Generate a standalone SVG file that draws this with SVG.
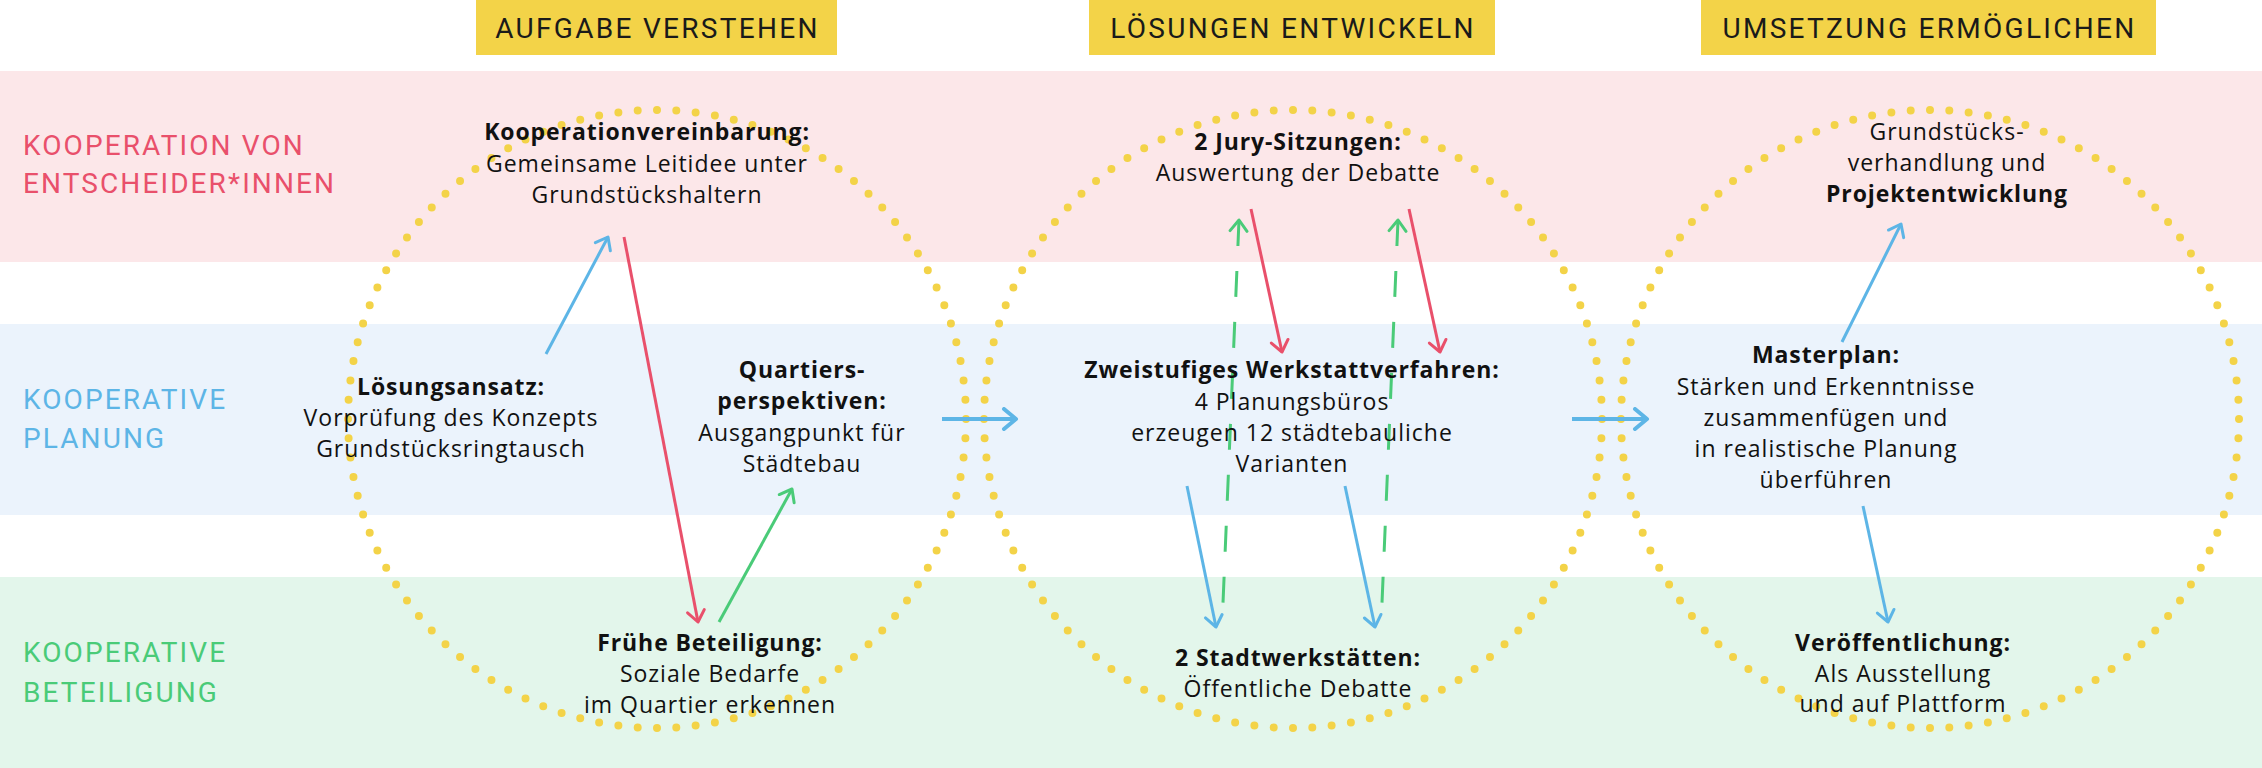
<svg xmlns="http://www.w3.org/2000/svg" width="2262" height="768" viewBox="0 0 2262 768">
<defs>
<style>
.band{stroke:none}
.hdr{fill:#F3D348}
.htxt{font-family:Roboto,"Liberation Sans",sans-serif;font-size:28px;letter-spacing:2.3px;fill:#1a1a1a;text-anchor:middle}
.row{font-family:Roboto,"Liberation Sans",sans-serif;font-size:28px;letter-spacing:2.1px}
.dots{fill:none;stroke:#F3D348;stroke-width:8;stroke-linecap:round;stroke-dasharray:0 1}
.t{font-family:"Open Sans","Noto Sans",sans-serif;font-size:23px;letter-spacing:1px;fill:#111;text-anchor:middle}
.b{font-weight:700;letter-spacing:0.9px}
.c{fill:none;stroke-width:3}
.red{stroke:#E9506B}
.blue{stroke:#5DB5E6}
.green{stroke:#4ACB78}
.thick{stroke-width:4}
.dash{stroke-dasharray:26 25}
</style>
<marker id="ar" viewBox="-16 -12 20 24" refX="0" refY="0" markerWidth="20" markerHeight="24" markerUnits="userSpaceOnUse" orient="auto-start-reverse"><path d="M-11,-8.5 L0,0 L-11,8.5" fill="none" stroke="#E9506B" stroke-width="3" stroke-linecap="round" stroke-linejoin="round"/></marker>
<marker id="ab" viewBox="-16 -12 20 24" refX="0" refY="0" markerWidth="20" markerHeight="24" markerUnits="userSpaceOnUse" orient="auto-start-reverse"><path d="M-11,-8.5 L0,0 L-11,8.5" fill="none" stroke="#5DB5E6" stroke-width="3" stroke-linecap="round" stroke-linejoin="round"/></marker>
<marker id="abt" viewBox="-16 -12 20 24" refX="0" refY="0" markerWidth="20" markerHeight="24" markerUnits="userSpaceOnUse" orient="auto-start-reverse"><path d="M-12,-10 L0,0 L-12,10" fill="none" stroke="#5DB5E6" stroke-width="4" stroke-linecap="round" stroke-linejoin="round"/></marker>
<marker id="ag" viewBox="-16 -12 20 24" refX="0" refY="0" markerWidth="20" markerHeight="24" markerUnits="userSpaceOnUse" orient="auto-start-reverse"><path d="M-11,-8.5 L0,0 L-11,8.5" fill="none" stroke="#4ACB78" stroke-width="3" stroke-linecap="round" stroke-linejoin="round"/></marker>
</defs>

<g id="background">
<rect class="band" x="0" y="71" width="2262" height="191" fill="#FCE7E9"/>
<rect class="band" x="0" y="324" width="2262" height="191" fill="#EBF3FC"/>
<rect class="band" x="0" y="577" width="2262" height="191" fill="#E3F6EB"/>
</g>

<g id="headers">
<rect class="hdr" x="476" y="0" width="361" height="55"/>
<text class="htxt" x="657.5" y="38">AUFGABE VERSTEHEN</text>
<rect class="hdr" x="1089" y="0" width="406" height="55"/>
<text class="htxt" x="1293" y="38">LÖSUNGEN ENTWICKELN</text>
<rect class="hdr" x="1701" y="0" width="455" height="55"/>
<text class="htxt" x="1929.5" y="38">UMSETZUNG ERMÖGLICHEN</text>
</g>

<g id="row-labels">
<text class="row" x="23" y="155" fill="#E9506B">KOOPERATION VON</text>
<text class="row" x="23" y="193" fill="#E9506B">ENTSCHEIDER*INNEN</text>
<text class="row" x="23" y="409" fill="#5DB5E6">KOOPERATIVE</text>
<text class="row" x="23" y="448" fill="#5DB5E6">PLANUNG</text>
<text class="row" x="23" y="662" fill="#4ACB78">KOOPERATIVE</text>
<text class="row" x="23" y="702" fill="#4ACB78">BETEILIGUNG</text>
</g>

<g id="phase-circles">
<circle class="dots" cx="657" cy="419" r="309" pathLength="100"/>
<circle class="dots" cx="1293" cy="419" r="309" pathLength="100"/>
<circle class="dots" cx="1930" cy="419" r="309" pathLength="100"/>
</g>

<g id="connectors">
<line class="c blue" x1="546" y1="354" x2="608" y2="237" marker-end="url(#ab)"/>
<line class="c red" x1="624" y1="237" x2="698" y2="622" marker-end="url(#ar)"/>
<line class="c green" x1="719" y1="622" x2="792" y2="489" marker-end="url(#ag)"/>
<line class="c blue thick" x1="942" y1="419" x2="1016" y2="419" marker-end="url(#abt)"/>
<line class="c red" x1="1251" y1="209" x2="1282" y2="352" marker-end="url(#ar)"/>
<line class="c red" x1="1409" y1="209" x2="1440" y2="352" marker-end="url(#ar)"/>
<line class="c green dash" x1="1239" y1="220" x2="1223" y2="603" marker-start="url(#ag)"/>
<line class="c green dash" x1="1398" y1="220" x2="1382" y2="603" marker-start="url(#ag)"/>
<line class="c blue" x1="1187" y1="486" x2="1216" y2="627" marker-end="url(#ab)"/>
<line class="c blue" x1="1345" y1="486" x2="1375" y2="627" marker-end="url(#ab)"/>
<line class="c blue thick" x1="1572" y1="419" x2="1647" y2="419" marker-end="url(#abt)"/>
<line class="c blue" x1="1842" y1="342" x2="1901" y2="224" marker-end="url(#ab)"/>
<line class="c blue" x1="1863" y1="506" x2="1888" y2="622" marker-end="url(#ab)"/>
</g>

<g id="node-kooperationvereinbarung">
<text class="t b" x="647" y="140">Kooperationvereinbarung:</text>
<text class="t" x="647" y="172">Gemeinsame Leitidee unter</text>
<text class="t" x="647" y="203">Grundstückshaltern</text>
</g>
<g id="node-loesungsansatz">
<text class="t b" x="451" y="395">Lösungsansatz:</text>
<text class="t" x="451" y="426">Vorprüfung des Konzepts</text>
<text class="t" x="451" y="457">Grundstücksringtausch</text>
</g>
<g id="node-quartiersperspektiven">
<text class="t b" x="802" y="378">Quartiers-</text>
<text class="t b" x="802" y="409">perspektiven:</text>
<text class="t" x="802" y="441">Ausgangpunkt für</text>
<text class="t" x="802" y="472">Städtebau</text>
</g>
<g id="node-fruehe-beteiligung">
<text class="t b" x="710" y="651">Frühe Beteiligung:</text>
<text class="t" x="710" y="682">Soziale Bedarfe</text>
<text class="t" x="710" y="713">im Quartier erkennen</text>
</g>
<g id="node-jury">
<text class="t b" x="1298" y="150">2 Jury-Sitzungen:</text>
<text class="t" x="1298" y="181">Auswertung der Debatte</text>
</g>
<g id="node-werkstattverfahren">
<text class="t b" x="1292" y="378">Zweistufiges Werkstattverfahren:</text>
<text class="t" x="1292" y="410">4 Planungsbüros</text>
<text class="t" x="1292" y="441">erzeugen 12 städtebauliche</text>
<text class="t" x="1292" y="472">Varianten</text>
</g>
<g id="node-stadtwerkstaetten">
<text class="t b" x="1298" y="666">2 Stadtwerkstätten:</text>
<text class="t" x="1298" y="697">Öffentliche Debatte</text>
</g>
<g id="node-projektentwicklung">
<text class="t" x="1947" y="140">Grundstücks-</text>
<text class="t" x="1947" y="171">verhandlung und</text>
<text class="t b" x="1947" y="202">Projektentwicklung</text>
</g>
<g id="node-masterplan">
<text class="t b" x="1826" y="363">Masterplan:</text>
<text class="t" x="1826" y="395">Stärken und Erkenntnisse</text>
<text class="t" x="1826" y="426">zusammenfügen und</text>
<text class="t" x="1826" y="457">in realistische Planung</text>
<text class="t" x="1826" y="488">überführen</text>
</g>
<g id="node-veroeffentlichung">
<text class="t b" x="1903" y="651">Veröffentlichung:</text>
<text class="t" x="1903" y="682">Als Ausstellung</text>
<text class="t" x="1903" y="712">und auf Plattform</text>
</g>
</svg>
